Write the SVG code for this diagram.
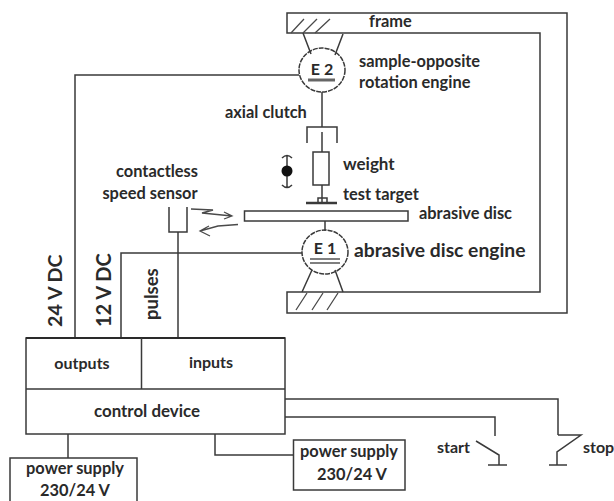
<svg xmlns="http://www.w3.org/2000/svg" width="614" height="501" viewBox="0 0 614 501">
<defs><style>
.l{fill:none;stroke:#3a3a3a;stroke-width:1.5}
.t{stroke-width:2;stroke:#2a2a2a;fill:none}
.h{fill:none;stroke:#4a4a4a;stroke-width:1.3}
text{font-family:Lato,"Liberation Sans",sans-serif;font-weight:700;fill:#2a2a2a;font-size:16.400px}
.m{text-anchor:middle}
</style></defs>
<rect width="614" height="501" fill="#fff"/>
<g id="connectors">
<path class="l" d="M299 75H75V338"/>
<path class="l" d="M302 253H121V338"/>
<path class="l" d="M178 232V338"/>
<path class="l" d="M322 92V127"/>
<path class="l" d="M322 132V152"/>
<path class="l" d="M322 185V203"/>
<path class="l" d="M325 221V231"/>
<path class="l" d="M285 399H558V435"/>
<path class="l" d="M285 417H495V436"/>
<path class="l" d="M215 434V455H293"/>
<path class="l" d="M68 434V458"/>
<path class="l" d="M303 33L311 54M343 34L335 55"/>
<path class="l" d="M312 270L302 292M335 270L343 292"/>
</g>
<g id="frame">
<path class="l" d="M287 33V13H567V313H287V292H540V33Z"/>
<path class="h" d="M291 33L304 19M303 33L317 19M315 33L330 19M296 310L307 293M312 310L323 293M327 310L338 293"/>
<text x="369" y="27">frame</text>
</g>
<g id="engine-e2">
<ellipse class="l" cx="322" cy="70" rx="23" ry="22" fill="#fff" stroke-dasharray="5 1"/>
<text class="m" x="322" y="75" style="font-size:16px">E 2</text>
<path d="M308 80H335" stroke="#666" stroke-width="3"/>
<text x="359" y="67">sample-opposite</text>
<text x="359" y="88">rotation engine</text>
</g>
<g id="clutch">
<path class="l" d="M307 143V127H337V143"/>
<text x="225" y="118">axial clutch</text>
</g>
<g id="weight">
<rect class="l" x="313" y="152" width="16" height="33" fill="#fff"/>
<path class="l" d="M282 158Q287 153 292 158M287 155V187M282 185Q287 190 292 185"/>
<circle cx="287" cy="171" r="5.500" fill="#111"/>
<text x="343" y="170" style="font-size:17px">weight</text>
</g>
<g id="test-target">
<path class="l" d="M318 203V198H327V203"/>
<path d="M306 203H337" stroke="#3a3a3a" stroke-width="2.500"/>
<text x="343" y="200">test target</text>
</g>
<g id="abrasive-disc">
<rect class="l" x="244.500" y="211" width="163.500" height="10" fill="#fff"/>
<text x="419" y="219">abrasive disc</text>
</g>
<g id="engine-e1">
<ellipse class="l" cx="325" cy="252" rx="23" ry="22" fill="#fff" stroke-dasharray="5 1"/>
<text class="m" x="325" y="254" style="font-size:16px">E 1</text>
<path d="M310 259H340M310 263H340" stroke="#555" stroke-width="1.500"/>
<text x="354" y="257" style="font-size:19.300px">abrasive disc engine</text>
</g>
<g id="speed-sensor">
<path class="l" d="M169 207V232H187V207"/>
<path class="h" d="M191 209L213 210L202 213L232 216M224 212L232 216L224 219"/>
<path class="h" d="M238 224.500L218 226L200 231M209 226L200 231L210 236"/>
<text class="m" x="157" y="177">contactless</text>
<text class="m" x="150" y="199">speed sensor</text>
</g>
<g id="voltage-labels">
<text transform="translate(62 327) rotate(-90)" style="font-size:19.700px">24 V DC</text>
<text transform="translate(111 327) rotate(-90)" style="font-size:20px">12 V DC</text>
<text transform="translate(158 320) rotate(-90)" style="font-size:18.500px">pulses</text>
</g>
<g id="control-device">
<rect class="l" x="26" y="338" width="259" height="96" fill="#fff"/>
<path class="t" d="M26 338H285"/>
<path class="l" d="M26 389H285M141.500 338V389"/>
<text class="m" x="82" y="369" style="font-size:16px">outputs</text>
<text class="m" x="211" y="368" style="font-size:16px">inputs</text>
<text class="m" x="147" y="417" style="font-size:16.900px">control device</text>
</g>
<g id="power-supply-left">
<rect class="l" x="10" y="458" width="127" height="50" fill="#fff"/>
<text class="m" x="75" y="474">power supply</text>
<text class="m" x="75" y="496">230/24 V</text>
</g>
<g id="power-supply-right">
<rect class="l" x="293.500" y="440" width="111.500" height="50" fill="#fff"/>
<text class="m" x="349" y="457">power supply</text>
<text class="m" x="352" y="480">230/24 V</text>
</g>
<g id="start">
<path class="l" d="M476 441L499 455V465"/>
<path class="l" d="M488 465H507"/>
<text x="437" y="453" style="font-size:16px">start</text>
</g>
<g id="stop">
<path class="l" d="M558 435H581L557 452V465"/>
<path class="l" d="M549 465H567"/>
<text x="583" y="453" style="font-size:16px">stop</text>
</g>
</svg>
